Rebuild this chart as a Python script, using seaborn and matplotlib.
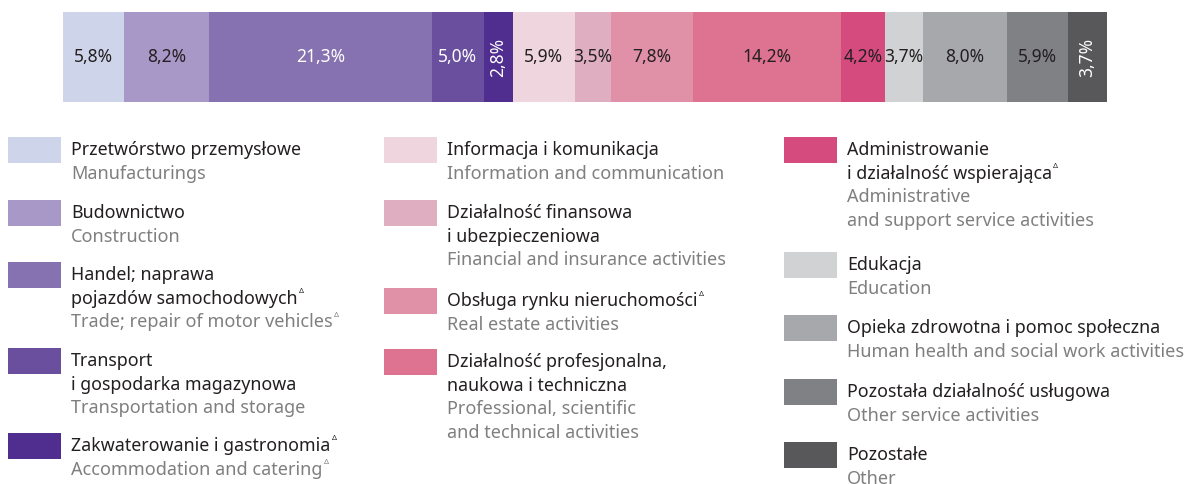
import matplotlib
matplotlib.use("Agg")
import numpy as np
import matplotlib.pyplot as plt
import seaborn as sns
from matplotlib.patches import Rectangle

# shares of sections, % (left to right in the bar)
shares = [5.8, 8.2, 21.3, 5.0, 2.8, 5.9, 3.5, 7.8, 14.2, 4.2, 3.7, 8.0, 5.9, 3.7]

names_pl = [
    "Przetwórstwo przemysłowe",
    "Budownictwo",
    "Handel; naprawa\npojazdów samochodowychΔ",
    "Transport\ni gospodarka magazynowa",
    "Zakwaterowanie i gastronomiaΔ",
    "Informacja i komunikacja",
    "Działalność finansowa\ni ubezpieczeniowa",
    "Obsługa rynku nieruchomościΔ",
    "Działalność profesjonalna,\nnaukowa i techniczna",
    "Administrowanie\ni działalność wspierającaΔ",
    "Edukacja",
    "Opieka zdrowotna i pomoc społeczna",
    "Pozostała działalność usługowa",
    "Pozostałe",
]

names_en = [
    "Manufacturings",
    "Construction",
    "Trade; repair of motor vehiclesΔ",
    "Transportation and storage",
    "Accommodation and cateringΔ",
    "Information and communication",
    "Financial and insurance activities",
    "Real estate activities",
    "Professional, scientific\nand technical activities",
    "Administrative\nand support service activities",
    "Education",
    "Human health and social work activities",
    "Other service activities",
    "Other",
]

palette = ["#CED4EA", "#A898C8", "#8672B0", "#6A4F9E", "#4F2E90",
           "#EFD5DE", "#E0AEC1", "#E091A8", "#DD7291", "#D64B7E",
           "#D1D2D4", "#A7A8AC", "#808184", "#58585A"]

W, H = 1189, 484
DARK = "#231F20"
GREY = "#7F7F7F"

sns.set_theme(style="white")
plt.rcParams["font.family"] = ["Noto Sans", "DejaVu Sans"]


def fx(px):
    return px / W


def fy(py):
    return 1 - py / H


fig = plt.figure(figsize=(W / 100, H / 100), dpi=100)

# stacked bar: draw cumulative totals from the largest down
ax = fig.add_axes([fx(63), fy(102), 1044 / W, 90 / H])
cum = np.cumsum(shares)
for i in reversed(range(len(shares))):
    sns.barplot(x=[cum[i]], y=["all"], orient="h", color=palette[i],
                saturation=1, width=1.0, errorbar=None, linewidth=0, ax=ax)
ax.set_xlim(0, 100)
ax.set_ylim(0.5, -0.5)
ax.axis("off")

white_txt = {2, 3, 4, 13}
rotated = {4, 13}
for i, v in enumerate(shares):
    lab = f"{v:.1f}%".replace(".", ",")
    ax.text(cum[i] - v / 2, 0, lab, ha="center", va="center",
            color="white" if i in white_txt else DARK,
            rotation=90 if i in rotated else 0, fontsize=12.5)

# legend, three columns
columns = [
    (8, [0, 1, 2, 3, 4], [150, 213, 275, 361, 446]),
    (384, [5, 6, 7, 8], [150, 213, 301, 362]),
    (784, [9, 10, 11, 12, 13], [150, 265, 328, 392, 455]),
]
LS = 23.7

fig.canvas.draw()
renderer = fig.canvas.get_renderer()


def put_line(x, y, s, color, size):
    delta = s.endswith("Δ")
    if delta:
        s = s[:-1]
    t = fig.text(fx(x), fy(y), s, ha="left", va="center", color=color,
                 fontsize=size)
    if delta:
        bb = t.get_window_extent(renderer)
        fig.text(bb.x1 / W + 1 / W, fy(y - 7), "Δ", ha="left", va="center",
                 color=color, fontsize=5.5)


for x0, idxs, ys in columns:
    for i, y in zip(idxs, ys):
        fig.patches.append(Rectangle((fx(x0), fy(y + 13)), 53 / W, 26 / H,
                                     transform=fig.transFigure,
                                     facecolor=palette[i], edgecolor="none"))
        lines = [(l, DARK, 12.8) for l in names_pl[i].split("\n")]
        lines += [(l, GREY, 13.0) for l in names_en[i].split("\n")]
        for k, (l, c, s) in enumerate(lines):
            put_line(x0 + 63, y + k * LS, l, c, s)

fig.savefig("out.png", dpi=100, facecolor="white")
